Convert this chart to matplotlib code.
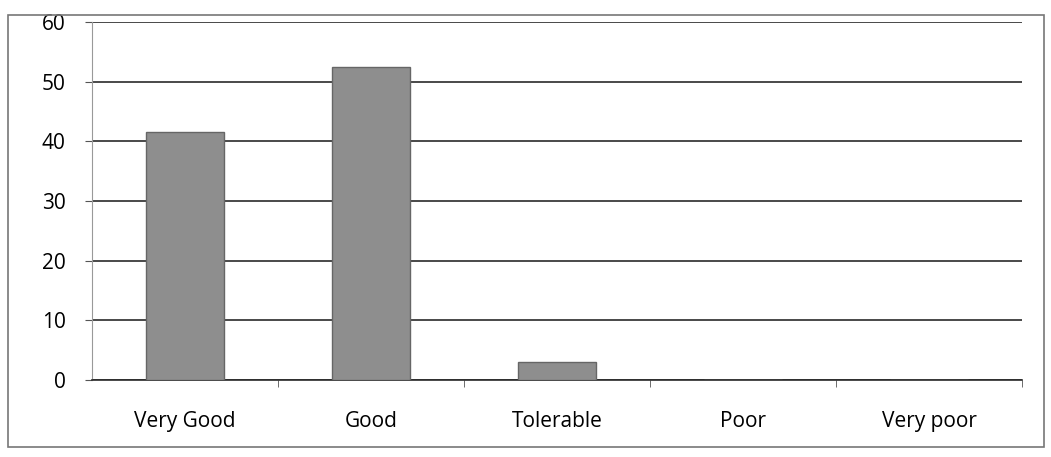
import matplotlib
matplotlib.use('Agg')
from matplotlib import pyplot as plt
from matplotlib.patches import Rectangle

categories = ['Very Good', 'Good', 'Tolerable', 'Poor', 'Very poor']
values = [41.5, 52.5, 3, 0, 0]
yticks = [0, 10, 20, 30, 40, 50, 60]

plt.rcParams['font.family'] = ['Open Sans', 'DejaVu Sans']

fig = plt.figure(figsize=(10.51, 4.57), dpi=100)
ax = fig.add_axes([92/1051, 1 - 380/457, (1022 - 92)/1051, (380 - 22)/457])

x = range(len(categories))
ax.bar(x, values, width=0.42, color='#8e8e8e', edgecolor='#666666', linewidth=1, zorder=3)

ax.set_ylim(0, 60)
ax.set_xlim(-0.5, len(categories) - 0.5)
ax.set_yticks(yticks)
ax.set_xticks(x)
ax.set_xticklabels(categories, fontsize=15)
ax.tick_params(axis='y', labelsize=15, length=5, color='#555555', pad=14)
ax.tick_params(axis='x', length=0, pad=22)
# category boundary tick marks
ax.set_xticks([i + 0.5 for i in range(len(categories))], minor=True)
ax.tick_params(axis='x', which='minor', length=5, color='#555555')

ax.yaxis.grid(True, color='#2a2a2a', linewidth=1.2, zorder=0)
for side in ('top', 'right'):
    ax.spines[side].set_visible(False)
ax.spines['left'].set_color('#999999')
ax.spines['bottom'].set_color('#2a2a2a')
ax.spines['bottom'].set_linewidth(1.2)

# outer chart frame
fig.patches.append(Rectangle((8/1051, 10/457), 1036/1051, 432/457, transform=fig.transFigure,
                             fill=False, edgecolor='#777777', linewidth=1.2))

fig.savefig('out.png', dpi=100)
